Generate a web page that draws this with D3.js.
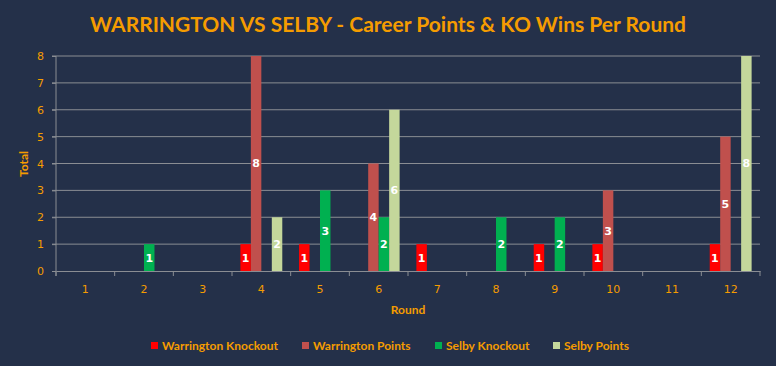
<!DOCTYPE html>
<html><head><meta charset="utf-8">
<script src="https://cdn.jsdelivr.net/npm/d3@7"></script>
<style>body{margin:0;background:#243049;}svg{display:block;}</style>
</head><body>
<svg id="c" width="776" height="366"></svg>
<script>
const rounds = ["1","2","3","4","5","6","7","8","9","10","11","12"];
const seriesNames = ["Warrington Knockout","Warrington Points","Selby Knockout","Selby Points"];
const warringtonKnockout = [0,0,0,1,1,0,1,0,1,1,0,1];
const warringtonPoints   = [0,0,0,8,0,4,0,0,0,3,0,5];
const selbyKnockout      = [0,1,0,0,3,2,0,2,2,0,0,0];
const selbyPoints        = [0,0,0,2,0,6,0,0,0,0,0,8];
const yTicks = [0,1,2,3,4,5,6,7,8];
const colors = ["#ff0000","#c0504d","#00b050","#c4d79b"];
const seriesValues = [warringtonKnockout, warringtonPoints, selbyKnockout, selbyPoints];

const svg = d3.select("#c");
const W=776,H=366;
svg.append("rect").attr("width",W).attr("height",H).attr("fill","#243049");
const L=56,R=760,T=56,B=271;
const x0 = d3.scaleBand().domain(rounds).range([L,R]).paddingInner(0).paddingOuter(0);
const x1 = d3.scaleBand().domain(d3.range(4)).range([0,x0.bandwidth()]).paddingInner(0).paddingOuter(0.8);
const y = d3.scaleLinear().domain([0,8]).range([B,T]);
const orange="#f59c00";

// gridlines
svg.append("g").selectAll("line").data(yTicks.slice(1)).join("line")
  .attr("x1",L-4).attr("x2",R).attr("y1",d=>y(d)).attr("y2",d=>y(d))
  .attr("stroke","#8a8d93").attr("stroke-width",1);

// y axis
const ya = svg.append("g").attr("transform",`translate(${L},0)`).call(d3.axisLeft(y).tickValues(yTicks).tickSize(4).tickPadding(8));
ya.select(".domain").attr("stroke","#8a8d93").attr("d",`M0,${T}V${B+5}`);
ya.selectAll(".tick line").attr("stroke","#8a8d93");
ya.selectAll("text").attr("fill",orange).attr("font-family","DejaVu Sans").attr("font-size",11);

// x axis
const xa = svg.append("g").attr("transform",`translate(0,${B})`).call(d3.axisBottom(x0).tickSize(0).tickPadding(14));
xa.select(".domain").attr("stroke","#8a8d93");
xa.selectAll("text").attr("fill",orange).attr("font-family","DejaVu Sans").attr("font-size",11);
svg.append("g").selectAll("line").data(d3.range(13)).join("line")
  .attr("x1",i=>L+i*x0.step()).attr("x2",i=>L+i*x0.step())
  .attr("y1",B).attr("y2",B+5).attr("stroke","#8a8d93");

// bars
const g = svg.append("g");
rounds.forEach((r,ri)=>{
  seriesValues.forEach((vals,si)=>{
    const v = vals[ri];
    if(!v) return;
    const bx = x0(r)+x1(si);
    g.append("rect").attr("x",bx).attr("y",y(v)).attr("width",x1.bandwidth()).attr("height",y(0)-y(v)).attr("fill",colors[si]);
    g.append("text").attr("x",bx+x1.bandwidth()/2).attr("y",(y(v)+y(0))/2).attr("dy","0.36em")
      .attr("text-anchor","middle").attr("fill","#ffffff").attr("font-family","DejaVu Sans").attr("font-weight","bold").attr("font-size",11).text(v);
  });
});

// title
svg.append("text").attr("x",388).attr("y",32).attr("text-anchor","middle").attr("fill",orange)
  .attr("font-family","Lato, Open Sans, sans-serif").attr("font-weight","bold").attr("font-size",21)
  .text("WARRINGTON VS SELBY  - Career Points & KO Wins Per Round");

// axis titles
svg.append("text").attr("transform","translate(28,164) rotate(-90)").attr("text-anchor","middle").attr("fill",orange)
  .attr("font-family","Lato, sans-serif").attr("font-weight","bold").attr("font-size",12).text("Total");
svg.append("text").attr("x",408).attr("y",314).attr("text-anchor","middle").attr("fill",orange)
  .attr("font-family","Lato, sans-serif").attr("font-weight","bold").attr("font-size",12).text("Round");

// legend
const legX=[151,302,435,553];
const lg = svg.append("g");
seriesNames.forEach((n,i)=>{
  lg.append("rect").attr("x",legX[i]).attr("y",342).attr("width",7).attr("height",7).attr("fill",colors[i]);
  lg.append("text").attr("x",legX[i]+11).attr("y",349.5).attr("fill",orange)
    .attr("font-family","Lato, sans-serif").attr("font-weight","bold").attr("font-size",12).text(n);
});
</script>
</body></html>
